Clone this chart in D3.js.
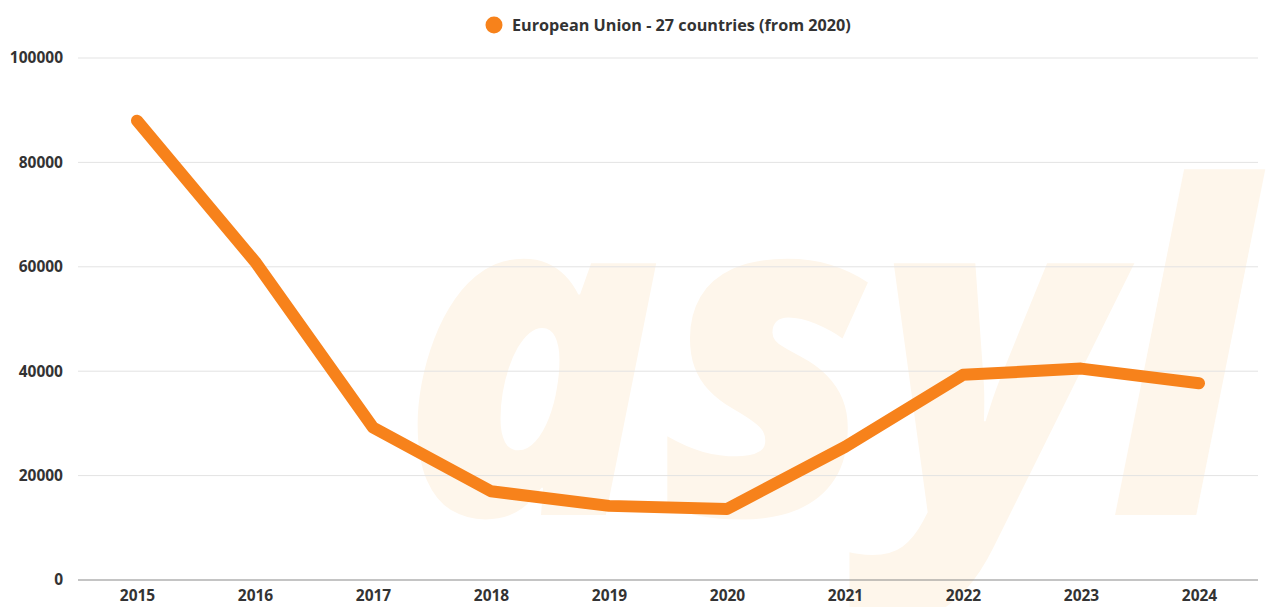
<!DOCTYPE html>
<html>
<head>
<meta charset="utf-8">
<script src="https://cdn.jsdelivr.net/npm/d3@7"></script>
<style>
  html, body { margin: 0; padding: 0; background: #fff; }
  svg { display: block; }
</style>
</head>
<body>
<div id="chart"></div>
<script>
// Asylum applications, European Union – 27 countries (from 2020)
const years = ["2015", "2016", "2017", "2018", "2019", "2020", "2021", "2022", "2023", "2024"];
const applications = [88000, 61000, 29200, 17000, 14200, 13600, 25500, 39300, 40500, 37700];
const yTicks = [0, 20000, 40000, 60000, 80000, 100000];
const seriesName = "European Union - 27 countries (from 2020)";

const W = 1272, H = 607;
const margin = { top: 58, right: 14, bottom: 27, left: 78 };
const lineColor = "#f7821b";
const font = "'Open Sans', sans-serif";

const svg = d3.select("#chart").append("svg")
  .attr("width", W).attr("height", H);

const x = d3.scalePoint()
  .domain(years)
  .range([margin.left, W - margin.right])
  .padding(0.5);

const y = d3.scaleLinear()
  .domain([0, 100000])
  .range([H - margin.bottom, margin.top]);

// Watermark lettering behind the plot
svg.append("text")
  .attr("x", 400)
  .attr("y", 515)
  .attr("textLength", 850)
  .attr("lengthAdjust", "spacingAndGlyphs")
  .attr("font-family", font)
  .attr("font-weight", 800)
  .attr("font-style", "italic")
  .attr("font-size", 455)
  .attr("fill", "#fef6eb")
  .text("asyl");

// Horizontal grid lines
svg.append("g")
  .selectAll("line")
  .data(yTicks.filter(d => d > 0))
  .join("line")
  .attr("x1", margin.left)
  .attr("x2", W - margin.right)
  .attr("y1", d => y(d))
  .attr("y2", d => y(d))
  .attr("stroke", "#e3e3e3")
  .attr("stroke-width", 1);

// Y axis labels
const yAxis = svg.append("g")
  .attr("transform", `translate(${margin.left},0)`)
  .call(d3.axisLeft(y).tickValues(yTicks).tickSize(0).tickPadding(15).tickFormat(d3.format("d")));
yAxis.select(".domain").remove();
yAxis.selectAll("text")
  .attr("font-family", font)
  .attr("font-weight", 700)
  .attr("font-size", 15.5)
  .attr("fill", "#333");

// X axis with baseline
const xAxis = svg.append("g")
  .attr("transform", `translate(0,${y(0)})`)
  .call(d3.axisBottom(x).tickSize(0).tickPadding(10));
xAxis.select(".domain")
  .attr("d", `M${margin.left},0H${W - margin.right}`)
  .attr("stroke", "#8a8a8a")
  .attr("stroke-width", 1.2);
xAxis.selectAll("text")
  .attr("font-family", font)
  .attr("font-weight", 700)
  .attr("font-size", 15.5)
  .attr("fill", "#333");

// Series line
const line = d3.line()
  .x((d, i) => x(years[i]))
  .y(d => y(d));

svg.append("path")
  .datum(applications)
  .attr("d", line)
  .attr("fill", "none")
  .attr("stroke", lineColor)
  .attr("stroke-width", 12)
  .attr("stroke-linejoin", "round")
  .attr("stroke-linecap", "round");

// Legend
const legend = svg.append("g").attr("transform", "translate(494,25)");
legend.append("circle")
  .attr("r", 8.5)
  .attr("fill", lineColor);
legend.append("text")
  .attr("x", 18)
  .attr("dy", "0.35em")
  .attr("font-family", font)
  .attr("font-weight", 700)
  .attr("font-size", 16.2)
  .attr("fill", "#333")
  .text(seriesName);
</script>
</body>
</html>
